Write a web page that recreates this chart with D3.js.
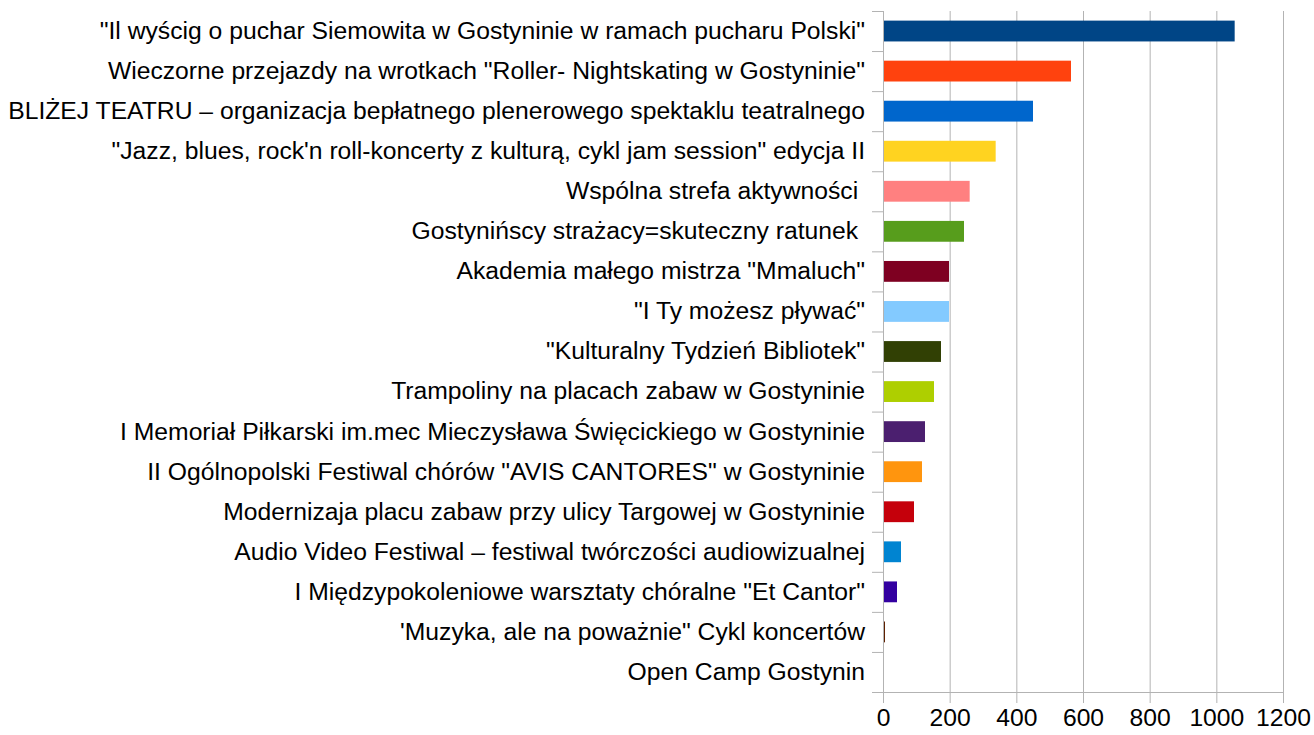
<!DOCTYPE html>
<html>
<head>
<meta charset="utf-8">
<script src="https://cdn.jsdelivr.net/npm/d3@7"></script>
<style>
  body { margin: 0; background: #fff; }
  svg { display: block; }
</style>
</head>
<body>
<div id="chart-area"></div>
<script>
// Data
const categories = [
  '"Il wyścig o puchar Siemowita w Gostyninie w ramach pucharu Polski"',
  'Wieczorne przejazdy na wrotkach "Roller- Nightskating w Gostyninie"',
  'BLIŻEJ TEATRU – organizacja bepłatnego plenerowego spektaklu teatralnego',
  '"Jazz, blues, rock\'n roll-koncerty z kulturą, cykl jam session" edycja II',
  'Wspólna strefa aktywności ',
  'Gostynińscy strażacy=skuteczny ratunek ',
  'Akademia małego mistrza "Mmaluch"',
  '"I Ty możesz pływać"',
  '"Kulturalny Tydzień Bibliotek"',
  'Trampoliny na placach zabaw w Gostyninie',
  'I Memoriał Piłkarski im.mec Mieczysława Święcickiego w Gostyninie',
  'II Ogólnopolski Festiwal chórów "AVIS CANTORES" w Gostyninie',
  'Modernizaja placu zabaw przy ulicy Targowej w Gostyninie',
  'Audio Video Festiwal – festiwal twórczości audiowizualnej',
  'I Międzypokoleniowe warsztaty chóralne "Et Cantor"',
  '\'Muzyka, ale na poważnie" Cykl koncertów',
  'Open Camp Gostynin'
];
const values = [1055, 564, 450, 338, 260, 243, 198, 198, 174, 153, 126, 117, 93, 54, 42, 6, 0];
const colors = [
  '#004586', '#ff420e', '#0066cc', '#ffd320', '#ff8080', '#579d1c',
  '#7e0021', '#83caff', '#314004', '#aecf00', '#4b1f6f', '#ff950e',
  '#c5000b', '#0084d1', '#3300a0', '#5e2000', '#999999'
];
const xTicks = [0, 200, 400, 600, 800, 1000, 1200];

// Margins
const margin = { left: 883, right: 31, top: 11, bottom: 43 };
const width = 1314 - margin.left - margin.right;
const height = 735 - margin.top - margin.bottom;
const fontFamily = '"Liberation Sans", Arial, sans-serif';

const svg = d3.select('#chart-area').append('svg')
  .attr('width', 1314)
  .attr('height', 735);

const g = svg.append('g')
  .attr('transform', 'translate(' + margin.left + ', ' + margin.top + ')');

const data = categories.map((c, i) => ({ name: c, value: values[i], color: colors[i] }));

// Scales
const x = d3.scaleLinear()
  .domain([0, 1200])
  .range([0, width]);

const y = d3.scaleBand()
  .domain(categories)
  .range([0, height])
  .paddingInner(0.48)
  .paddingOuter(0.24);

// slot boundaries for the small tick marks on the left
const ySlots = d3.scaleLinear()
  .domain([0, categories.length])
  .range([0, height]);

// Gridlines
g.append('g')
  .attr('class', 'grid')
  .selectAll('line')
  .data(xTicks)
  .enter()
  .append('line')
  .attr('x1', (d) => x(d) + 0.5)
  .attr('x2', (d) => x(d) + 0.5)
  .attr('y1', 0)
  .attr('y2', height)
  .attr('stroke', '#b3b3b3')
  .attr('stroke-width', 1);

// X axis
const xAxisCall = d3.axisBottom(x)
  .tickValues(xTicks)
  .tickSize(11)
  .tickPadding(5)
  .tickFormat((d) => d);
const xAxis = g.append('g')
  .attr('class', 'x-axis')
  .attr('transform', 'translate(0, ' + height + ')')
  .call(xAxisCall);
xAxis.select('.domain').attr('stroke', '#b3b3b3');
xAxis.selectAll('line').attr('stroke', '#b3b3b3');
xAxis.selectAll('text')
  .attr('font-family', fontFamily)
  .attr('font-size', '24.7px')
  .attr('fill', '#000');

// Y tick marks
const yTickCall = d3.axisLeft(ySlots)
  .tickValues(d3.range(categories.length + 1))
  .tickSize(11)
  .tickFormat('');
const yTicksG = g.append('g')
  .attr('class', 'y-ticks')
  .call(yTickCall);
yTicksG.select('.domain').attr('stroke', '#b3b3b3').attr('d', 'M0.5,0V' + (height + 11));
yTicksG.selectAll('line').attr('stroke', '#b3b3b3');

// Y labels
const yAxisCall = d3.axisLeft(y)
  .tickSize(0)
  .tickPadding(18);
const yAxis = g.append('g')
  .attr('class', 'y-axis')
  .call(yAxisCall);
yAxis.select('.domain').remove();
yAxis.selectAll('text')
  .attr('font-family', fontFamily)
  .attr('font-size', '24.7px')
  .attr('fill', '#000')
  .style('white-space', 'pre');

// Bars
g.selectAll('rect.bar')
  .data(data)
  .enter()
  .append('rect')
  .attr('class', 'bar')
  .attr('x', x(0) + 1)
  .attr('y', (d) => y(d.name))
  .attr('width', (d) => Math.max(0, x(d.value) - x(0) - 1))
  .attr('height', y.bandwidth())
  .attr('fill', (d) => d.color);
</script>
</body>
</html>
